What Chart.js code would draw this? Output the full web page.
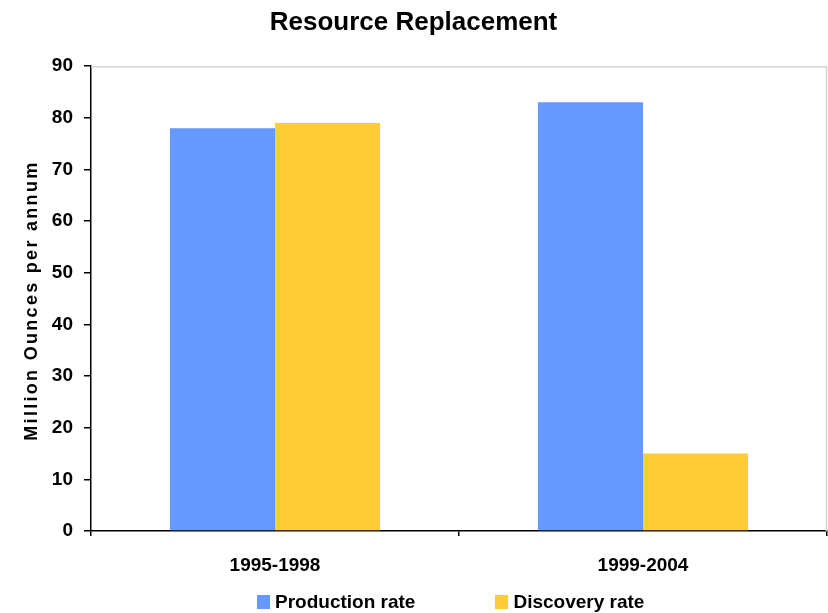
<!DOCTYPE html>
<html>
<head>
<meta charset="utf-8">
<script src="https://cdn.jsdelivr.net/npm/chart.js@4/dist/chart.umd.min.js"></script>
<style>
  body { margin: 0; background: #fff; }
  #wrap { position: relative; width: 828px; height: 613px; }
  #legend {
    position: absolute; left: 257px; top: 591px;
    display: flex; gap: 80px;
    font: bold 19px "Liberation Sans", Arial, sans-serif; color: #000;
  }
  #legend .item { display: flex; align-items: center; }
  #legend .box { width: 13px; height: 14px; margin-right: 5px; }
</style>
</head>
<body>
<div id="wrap">
  <canvas id="chart" width="828" height="613"></canvas>
  <div id="legend"></div>
</div>
<script>
document.addEventListener("DOMContentLoaded", function() {

// periods on the x axis
const periods = ["1995-1998", "1999-2004"];
// million ounces per annum
const productionRate = [78, 83];
const discoveryRate = [79, 15];
const seriesNames = ["Production rate", "Discovery rate"];
const seriesColors = ["#6699FF", "#FFCC33"];
const yTicks = { min: 0, max: 90, step: 10 };

const FONT = '"Liberation Sans", Arial, sans-serif';

// grey frame on the top and right of the plot area
const plotFrame = {
  id: "plotFrame",
  beforeDatasetsDraw(chart) {
    const { ctx, chartArea: a } = chart;
    ctx.save();
    ctx.strokeStyle = "#d4d4d4";
    ctx.lineWidth = 1.5;
    ctx.beginPath();
    ctx.moveTo(a.left, a.top + 0.5);
    ctx.lineTo(a.right - 0.5, a.top + 0.5);
    ctx.lineTo(a.right - 0.5, a.bottom);
    ctx.stroke();
    ctx.restore();
  }
};

// rotated y axis title with letter spacing
const yTitle = {
  id: "yTitle",
  afterDraw(chart) {
    const { ctx, chartArea: a } = chart;
    ctx.save();
    ctx.translate(32, (a.top + a.bottom) / 2 + 2);
    ctx.rotate(-Math.PI / 2);
    ctx.font = "bold 18px " + FONT;
    ctx.letterSpacing = "2.3px";
    ctx.fillStyle = "#000";
    ctx.textAlign = "center";
    ctx.textBaseline = "middle";
    ctx.fillText("Million Ounces per annum", 0, 0);
    ctx.restore();
  }
};

const datasets = [productionRate, discoveryRate].map((values, i) => ({
  label: seriesNames[i],
  data: values,
  backgroundColor: seriesColors[i],
  borderWidth: 0,
  categoryPercentage: 0.571,
  barPercentage: 1
}));

new Chart(document.getElementById("chart"), {
  type: "bar",
  data: { labels: periods, datasets: datasets },
  options: {
    responsive: false,
    animation: false,
    devicePixelRatio: 1,
    layout: { padding: { left: 0, right: 1, top: 0, bottom: 0 } },
    plugins: {
      legend: { display: false },
      tooltip: { enabled: false },
      title: {
        display: true,
        text: "Resource Replacement",
        color: "#000",
        font: { family: FONT, size: 26, weight: "bold" },
        padding: { top: 7, bottom: 28 }
      }
    },
    scales: {
      x: {
        grid: { offset: true, drawOnChartArea: false, drawTicks: true, tickLength: 5, color: "#000", lineWidth: 1.5 },
        border: { display: true, color: "#000", width: 1.5 },
        ticks: { color: "#000", padding: 18, font: { family: FONT, size: 19, weight: "bold" } },
        afterFit(scale) { scale.height = 82; }
      },
      y: {
        min: yTicks.min,
        max: yTicks.max,
        grid: { drawOnChartArea: false, drawTicks: true, tickLength: 7, color: "#000", lineWidth: 1.5 },
        border: { display: true, color: "#000", width: 1.5 },
        ticks: { stepSize: yTicks.step, color: "#000", padding: 11, font: { family: FONT, size: 19, weight: "bold" } },
        afterFit(scale) { scale.width = 91; }
      }
    }
  },
  plugins: [plotFrame, yTitle]
});

// legend below the chart
const legend = document.getElementById("legend");
seriesNames.forEach((name, i) => {
  const item = document.createElement("div");
  item.className = "item";
  const box = document.createElement("span");
  box.className = "box";
  box.style.background = seriesColors[i];
  item.appendChild(box);
  item.appendChild(document.createTextNode(name));
  legend.appendChild(item);
});

});
</script>
</body>
</html>
